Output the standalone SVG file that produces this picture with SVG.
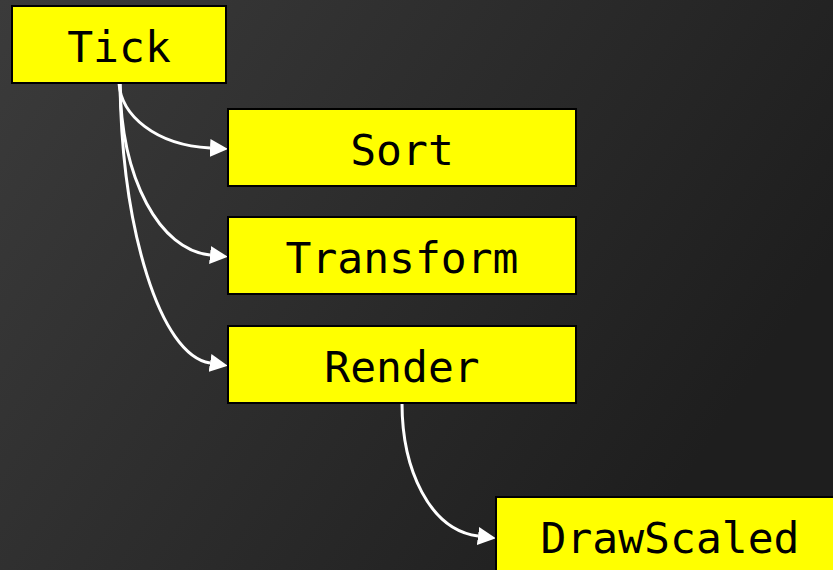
<svg xmlns="http://www.w3.org/2000/svg" width="833" height="570" viewBox="0 0 833 570">
  <defs>
    <linearGradient id="bg" x1="0" y1="0" x2="1" y2="0.45">
      <stop offset="0" stop-color="#3b3b3b"/>
      <stop offset="1" stop-color="#1e1e1e"/>
    </linearGradient>
    <marker id="arrow" markerUnits="userSpaceOnUse" markerWidth="19" markerHeight="18" refX="0" refY="9" orient="auto">
      <polygon points="0,0 18,9 0,18" fill="#ffffff"/>
    </marker>
    <style>
      .box { fill: #ffff00; stroke: #000000; stroke-width: 2; }
      .label { font-family: "DejaVu Sans Mono", "Liberation Mono", monospace; font-size: 43px; fill: #000000; text-anchor: middle; }
      .edge { fill: none; stroke: #ffffff; stroke-width: 3; marker-end: url(#arrow); }
    </style>
  </defs>

  <rect x="0" y="0" width="833" height="570" fill="url(#bg)"/>

  <g id="connectors">
    <path class="edge" d="M119,83 C121,115 155,145 210,148"/>
    <path class="edge" d="M120,83 C121,180 160,250 210,255"/>
    <path class="edge" d="M120,83 C122,230 160,355 210,363"/>
    <path class="edge" d="M402,403 C402,470 430,530 478,536"/>
  </g>

  <g id="tick">
    <rect class="box" x="12" y="6" width="214" height="77"/>
    <text class="label" x="119" y="62">Tick</text>
  </g>
  <g id="sort">
    <rect class="box" x="228" y="109" width="348" height="77"/>
    <text class="label" x="402" y="165">Sort</text>
  </g>
  <g id="transform">
    <rect class="box" x="228" y="217" width="348" height="77"/>
    <text class="label" x="402" y="273">Transform</text>
  </g>
  <g id="render">
    <rect class="box" x="228" y="326" width="348" height="77"/>
    <text class="label" x="402" y="382">Render</text>
  </g>
  <g id="drawscaled">
    <rect class="box" x="496" y="497" width="348" height="77"/>
    <text class="label" x="670" y="553">DrawScaled</text>
  </g>
</svg>
